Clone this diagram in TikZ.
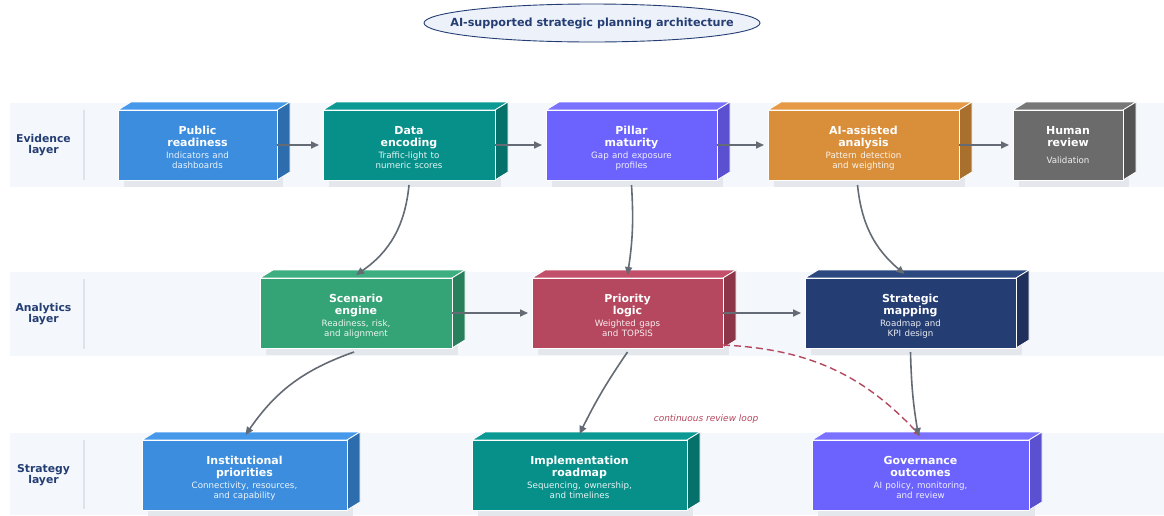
\documentclass[tikz,border=0pt]{standalone}
\usepackage{fontspec}
\setmainfont{DejaVu Sans}
\usetikzlibrary{arrows.meta,shapes.geometric}
\definecolor{bandc}{HTML}{F4F7FC}
\definecolor{sepc}{HTML}{DCE3EE}
\definecolor{navy}{HTML}{243D73}
\definecolor{titlefill}{HTML}{EDF2FA}
\definecolor{shadowc}{HTML}{E4E7EC}
\definecolor{connc}{HTML}{646B75}
\definecolor{loopcol}{HTML}{B5475E}
% cube colours: F front, T top, S side
\definecolor{blueF}{HTML}{3C8DDE}\definecolor{blueT}{HTML}{4699EA}\definecolor{blueS}{HTML}{2E6DAD}
\definecolor{tealF}{HTML}{07908A}\definecolor{tealT}{HTML}{0A9A93}\definecolor{tealS}{HTML}{06706B}
\definecolor{purpF}{HTML}{6C63FF}\definecolor{purpT}{HTML}{7A72FF}\definecolor{purpS}{HTML}{5A50D0}
\definecolor{oranF}{HTML}{D98E3A}\definecolor{oranT}{HTML}{E69A45}\definecolor{oranS}{HTML}{A86F2D}
\definecolor{grayF}{HTML}{6B6B6B}\definecolor{grayT}{HTML}{777777}\definecolor{grayS}{HTML}{545454}
\definecolor{grenF}{HTML}{34A376}\definecolor{grenT}{HTML}{3DAE80}\definecolor{grenS}{HTML}{287F5B}
\definecolor{redbF}{HTML}{B5475E}\definecolor{redbT}{HTML}{C2506A}\definecolor{redbS}{HTML}{8D3649}
\definecolor{navyF}{HTML}{243D73}\definecolor{navyT}{HTML}{2C4880}\definecolor{navyS}{HTML}{1E305B}
\tikzset{
  conn/.style={draw=connc, line width=1.6pt, -{Triangle[length=8pt,width=7pt]}},
  loopline/.style={draw=loopcol, line width=1.4pt, dash pattern=on 7pt off 4pt, -{Triangle[length=7pt,width=6pt]}},
  face/.style={draw=white, line width=0.8pt, line join=round},
  boxtext/.style={text=white, align=center, inner sep=0pt, anchor=north, text width=200pt},
  layerlab/.style={text=navy, font=\fontsize{10.8}{11}\selectfont\bfseries, align=center, inner sep=0pt},
  band/.style={fill=bandc},
  sepline/.style={draw=sepc, line width=1.5pt},
  looplab/.style={text=loopcol, font=\fontsize{9}{10}\selectfont\itshape, inner sep=0pt},
  titletext/.style={text=navy, font=\fontsize{11.2}{12}\selectfont\bfseries, inner sep=0pt},
}
% #1 name, #2 x1, #3 y1, #4 x2, #5 y2, #6 colour prefix, #7 title, #8 subtitle, #9 gap
\newcommand\cubebox[9]{%
  \fill[shadowc] ({#2+6},{#3+7}) rectangle ({#4+6},{#5+7});
  \filldraw[face, fill=#6T] (#2,#3) -- ({#2+13},{#3-8}) -- ({#4+13},{#3-8}) -- (#4,#3) -- cycle;
  \filldraw[face, fill=#6S] (#4,#3) -- ({#4+13},{#3-8}) -- ({#4+13},{#5-8}) -- (#4,#5) -- cycle;
  \node[face, fill=#6F, minimum width={(#4-#2)*1pt}, minimum height={(#5-#3)*1pt}, inner sep=0pt, outer sep=0pt] (#1) at ({(#2+#4)/2},{(#3+#5)/2}) {};
  \node[boxtext] (#1-t) at ({(#2+#4)/2},{(#3+#5)/2-19.5}) {\fontsize{11}{12}\selectfont\bfseries\rule{0pt}{8.5pt}#7\par\vspace{#9}\fontsize{8.7}{9.2}\selectfont\mdseries\color{white!90!#6F}#8\par};
}
\begin{document}
\begin{tikzpicture}[x=1pt,y=-1pt]
\useasboundingbox (0,0) rectangle (1164,515);
\fill[white] (0,0) rectangle (1164,515);
% bands
\fill[band] (10,103) rectangle (1164,187);
\fill[band] (10,272) rectangle (1164,356);
\fill[band] (10,433) rectangle (1164,515);
\draw[sepline] (84,110) -- (84,180);
\draw[sepline] (84,279) -- (84,349);
\draw[sepline] (84,440) -- (84,509);
\node[layerlab] (lab1) at (43.5,145) {Evidence\\layer};
\node[layerlab] (lab2) at (43.5,314) {Analytics\\layer};
\node[layerlab] (lab3) at (43.5,475) {Strategy\\layer};
% title
\coordinate (tc) at (592,23);
\filldraw[draw=navy, line width=0.9pt, fill=titlefill] (tc) ellipse [x radius=168, y radius=19];
\node[titletext] (title) at (tc) {AI-supported strategic planning architecture};
% row 1
\cubebox{pub}{118}{110}{277}{180}{blue}{Public\\readiness}{Indicators and\\dashboards}{3.5pt}
\cubebox{data}{323}{110}{495}{180}{teal}{Data\\encoding}{Traffic-light to\\numeric scores}{3.5pt}
\cubebox{pill}{546}{110}{717}{180}{purp}{Pillar\\maturity}{Gap and exposure\\profiles}{3.5pt}
\cubebox{ai}{768}{110}{959}{180}{oran}{AI-assisted\\analysis}{Pattern detection\\and weighting}{3.5pt}
\cubebox{hum}{1013}{110}{1123}{180}{gray}{Human\\review}{Validation}{8pt}
% row 2
\cubebox{scen}{260}{278}{452}{348}{gren}{Scenario\\engine}{Readiness, risk,\\and alignment}{3.5pt}
\cubebox{prio}{532}{278}{723}{348}{redb}{Priority\\logic}{Weighted gaps\\and TOPSIS}{3.5pt}
\cubebox{strat}{805}{278}{1016}{348}{navy}{Strategic\\mapping}{Roadmap and\\KPI design}{3.5pt}
% row 3
\cubebox{inst}{142}{440}{347}{510}{blue}{Institutional\\priorities}{Connectivity, resources,\\and capability}{3.5pt}
\cubebox{impl}{472}{440}{687}{510}{teal}{Implementation\\roadmap}{Sequencing, ownership,\\and timelines}{3.5pt}
\cubebox{gov}{812}{440}{1029}{510}{purp}{Governance\\outcomes}{AI policy, monitoring,\\and review}{3.5pt}
% loop
\draw[loopline] ([yshift=3pt]prio.south east) to[bend left=22] ([yshift=4pt]gov.north);
\node[looplab] (loopl) at (706,419) {continuous review loop};
% connectors
\draw[conn] (pub.east) -- ([xshift=-4pt]data.west);
\draw[conn] (data.east) -- ([xshift=-4pt]pill.west);
\draw[conn] (pill.east) -- ([xshift=-4pt]ai.west);
\draw[conn] (ai.east) -- ([xshift=-4pt]hum.west);
\draw[conn] (scen.east) -- ([xshift=-4pt]prio.west);
\draw[conn] (prio.east) -- ([xshift=-4pt]strat.west);
\draw[conn] ([yshift=-5pt]data.south) to[bend left=25] ([yshift=3pt]scen.north);
\draw[conn] ([yshift=-5pt]pill.south) to[bend left=6] ([yshift=3pt]prio.north);
\draw[conn] ([xshift=-6pt,yshift=-5pt]ai.south) to[bend right=22] ([xshift=-6pt,yshift=4pt]strat.north);
\draw[conn] ([xshift=-2pt,yshift=-4pt]scen.south) to[bend right=18] ([xshift=1pt,yshift=5pt]inst.north);
\draw[conn] ([yshift=-4pt]prio.south) to[bend right=4] ([yshift=6pt]impl.north);
\draw[conn] ([yshift=-4pt]strat.south) to[bend right=4] ([xshift=-2pt,yshift=4pt]gov.north);
\end{tikzpicture}
\end{document}
